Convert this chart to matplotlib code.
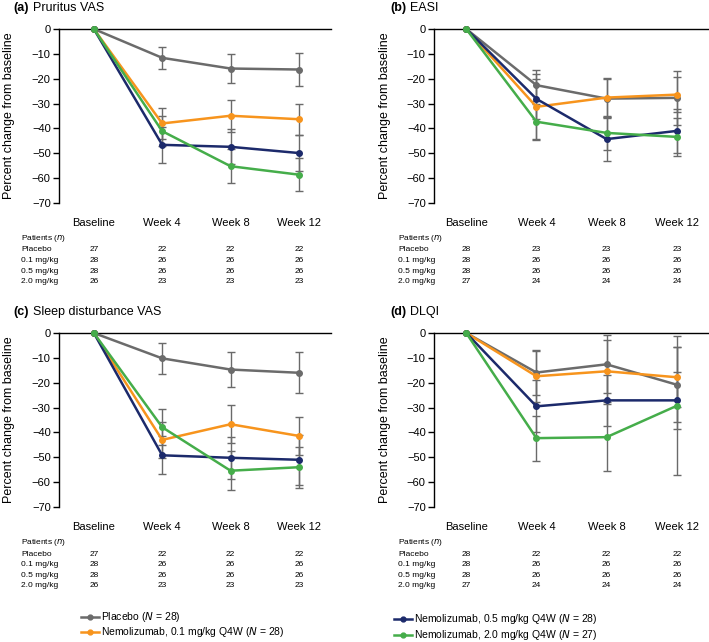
import matplotlib
matplotlib.use("Agg")
import matplotlib.pyplot as plt
from matplotlib.lines import Line2D
from matplotlib.transforms import blended_transform_factory

plt.rcParams["font.family"] = ["Liberation Sans", "DejaVu Sans"]

W, H = 709, 642

visits = ["Baseline", "Week 4", "Week 8", "Week 12"]
groups = ["Placebo", "0.1 mg/kg", "0.5 mg/kg", "2.0 mg/kg"]
legend_labels = [
    "Placebo ($N$ = 28)",
    "Nemolizumab, 0.1 mg/kg Q4W ($N$ = 28)",
    "Nemolizumab, 0.5 mg/kg Q4W ($N$ = 28)",
    "Nemolizumab, 2.0 mg/kg Q4W ($N$ = 27)",
]
colors = ["#6b6b6b", "#f7941d", "#1c2a6b", "#45ad4a"]

# mean percent change (baseline = 0), per group
pruritus_mean = [
    [0, -11.6, -15.9, -16.3],
    [0, -38.0, -34.9, -36.3],
    [0, -46.6, -47.4, -49.9],
    [0, -41.1, -55.2, -58.6],
]
pruritus_err = [
    [0, 4.5, 5.7, 6.5],
    [0, 6.3, 6.5, 6.3],
    [0, 7.2, 7.0, 7.2],
    [0, 6.1, 6.9, 6.6],
]
easi_mean = [
    [0, -22.6, -28.0, -27.7],
    [0, -31.3, -27.6, -26.4],
    [0, -28.1, -44.3, -41.0],
    [0, -37.3, -41.8, -43.4],
]
easi_err = [
    [0, 6.3, 7.7, 10.8],
    [0, 13.3, 8.0, 7.0],
    [0, 8.0, 8.8, 8.9],
    [0, 7.1, 6.7, 7.5],
]
sleep_mean = [
    [0, -10.2, -14.7, -16.0],
    [0, -43.0, -36.7, -41.4],
    [0, -49.2, -50.2, -51.0],
    [0, -37.9, -55.4, -54.0],
]
sleep_err = [
    [0, 6.3, 6.9, 8.3],
    [0, 7.2, 7.7, 7.5],
    [0, 7.6, 8.5, 10.0],
    [0, 7.2, 7.8, 8.3],
]
dlqi_mean = [
    [0, -15.9, -12.6, -20.8],
    [0, -17.4, -15.4, -17.8],
    [0, -29.5, -27.1, -27.1],
    [0, -42.3, -41.9, -29.3],
]
dlqi_err = [
    [0, 9.0, 11.7, 15.2],
    [0, 10.3, 12.5, 12.0],
    [0, 10.5, 10.3, 11.5],
    [0, 9.0, 13.5, 28.0],
]

# patients (n) tables
n_top_left = [[27, 22, 22, 22], [28, 26, 26, 26], [28, 26, 26, 26], [26, 23, 23, 23]]
n_top_right = [[28, 23, 23, 23], [28, 26, 26, 26], [28, 26, 26, 26], [27, 24, 24, 24]]
n_bot_left = [[27, 22, 22, 22], [28, 26, 26, 26], [28, 26, 26, 26], [26, 23, 23, 23]]
n_bot_right = [[28, 22, 22, 22], [28, 26, 26, 26], [28, 26, 26, 26], [27, 24, 24, 24]]

fig = plt.figure(figsize=(W / 100, H / 100), dpi=100)


def px_axes(x0, x1, ytop, ybot):
    return fig.add_axes([x0 / W, 1 - ybot / H, (x1 - x0) / W, (ybot - ytop) / H])


def draw_panel(ax, means, errs, xlim, tag, title, title_xy, ylab_x):
    x = list(range(len(visits)))
    for m, e, c in zip(means, errs, colors):
        ax.errorbar(x[1:], m[1:], yerr=e[1:], fmt="none", ecolor="#6a6a6a",
                    elinewidth=1.0, capsize=3, capthick=1.0, zorder=2)
    for m, c in zip(means, colors):
        ax.plot(x, m, color=c, lw=1.8, marker="o", ms=4, zorder=3, clip_on=False)
    ax.set_xlim(*xlim)
    ax.set_ylim(-70, 0)
    ax.set_yticks(range(-70, 1, 10))
    ax.set_yticklabels([str(v).replace("-", "\u2212") for v in range(-70, 1, 10)])
    ax.set_xticks(x)
    ax.set_xticklabels(visits)
    ax.spines["right"].set_visible(False)
    ax.spines["bottom"].set_visible(False)
    ax.spines["top"].set_linewidth(1.0)
    ax.spines["left"].set_linewidth(1.0)
    ax.tick_params(axis="x", length=0, pad=11, labelsize=8)
    ax.tick_params(axis="y", length=4, width=1.0, labelsize=8, pad=2)
    ax.set_ylabel("Percent change from baseline", fontsize=9)
    ax.yaxis.set_label_coords(ylab_x, 0.5)
    fig.text(title_xy[0] / W, 1 - title_xy[1] / H, tag, fontsize=9,
             fontweight="bold", va="center", ha="left")
    fig.text((title_xy[0] + 20) / W, 1 - title_xy[1] / H, title, fontsize=9,
             va="center", ha="left")


def draw_table(ax, counts, label_x, y_head):
    tr = blended_transform_factory(ax.transData, fig.transFigure)
    fig.text(label_x / W, 1 - y_head / H, "Patients ($n$)", fontsize=6,
             va="center", ha="left")
    for i, (g, row) in enumerate(zip(groups, counts)):
        yy = 1 - (y_head + 11 + 10.6 * i) / H
        fig.text(label_x / W, yy, g, fontsize=6, va="center", ha="left")
        for j, v in enumerate(row):
            ax.text(j, yy, str(v), transform=tr, fontsize=6, va="center",
                    ha="center")


ax_a = px_axes(59, 331, 29, 203)
draw_panel(ax_a, pruritus_mean, pruritus_err, (-0.51, 3.47), "(a)",
           "Pruritus VAS", (13, 8), -0.163)
draw_table(ax_a, n_top_left, 21, 239)

ax_b = px_axes(434, 709, 29, 203)
draw_panel(ax_b, easi_mean, easi_err, (-0.46, 3.46), "(b)", "EASI",
           (390, 8), -0.155)
draw_table(ax_b, n_top_right, 398, 239)

ax_c = px_axes(59, 331, 333, 507)
draw_panel(ax_c, sleep_mean, sleep_err, (-0.51, 3.47), "(c)",
           "Sleep disturbance VAS", (13, 312), -0.163)
draw_table(ax_c, n_bot_left, 21, 543)

ax_d = px_axes(434, 709, 333, 507)
draw_panel(ax_d, dlqi_mean, dlqi_err, (-0.46, 3.46), "(d)", "DLQI",
           (390, 312), -0.155)
draw_table(ax_d, n_bot_right, 398, 543)

# legend drawn in figure pixels
legend_pos = [(81, 617), (81, 632), (394, 619), (394, 635)]
for (lx, ly), lab, c in zip(legend_pos, legend_labels, colors):
    yf = 1 - ly / H
    fig.add_artist(Line2D([lx / W, (lx + 18) / W], [yf, yf], color=c, lw=1.8,
                          transform=fig.transFigure))
    fig.add_artist(Line2D([(lx + 9) / W], [yf], color=c, marker="o", ms=3.5,
                          transform=fig.transFigure))
    fig.text((lx + 20) / W, yf, lab, fontsize=7.5, va="center", ha="left")

fig.savefig("out.png", dpi=100)
